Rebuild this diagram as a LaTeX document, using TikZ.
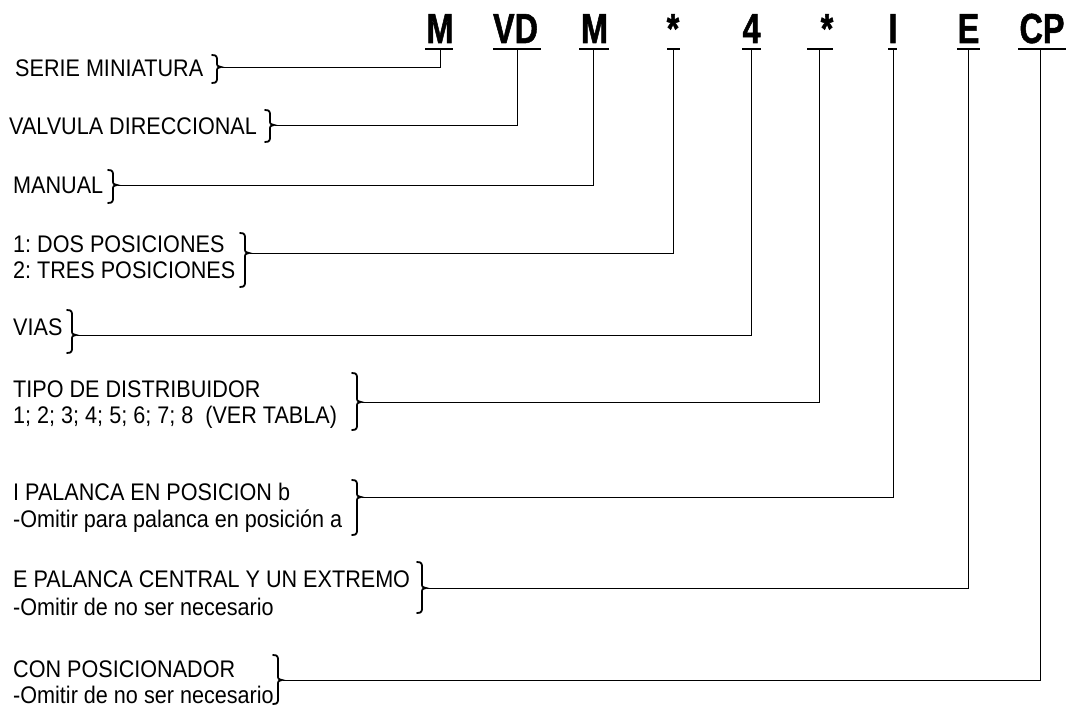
\documentclass[tikz,border=0pt]{standalone}
\usepackage{fontspec}
\setmainfont{Liberation Sans}
\newfontfamily\bodyfont{Liberation Sans}[FakeStretch=0.9]
\newfontfamily\headfont{Liberation Sans Bold}[FakeStretch=0.77,FakeBold=1.2]
\frenchspacing
\newcommand{\mybrace}[5]{% name, x, top, mid, bottom
  \draw[brc] (#2,#3) .. controls (#2+5,#3) and (#2+5,#3+2) .. (#2+5,#3+6)
    -- (#2+5,#4-5) .. controls (#2+5,#4-1) .. (#2+9,#4)
    .. controls (#2+5,#4+1) .. (#2+5,#4+5)
    -- (#2+5,#5-6) .. controls (#2+5,#5-2) and (#2+5,#5) .. (#2,#5);
  \coordinate (#1) at (#2+10,#4);}
\begin{document}
\begin{tikzpicture}[x=1pt,y=-1pt,
  lab/.style={inner sep=0pt,anchor=base west,font=\bodyfont\fontsize{24}{28}\selectfont},
  code/.style={inner sep=0pt,anchor=base,font=\headfont\fontsize{42}{46}\selectfont},
  uline/.style={line width=1.6pt},
  conn/.style={line width=0.8pt},
  brc/.style={line width=1.8pt,line cap=round}]
\useasboundingbox (0,0) rectangle (1067,706);

% header code letters
\node[code] (h1) at (440,43) {M};
\node[code] (h2) at (515.5,43) {VD};
\node[code] (h3) at (594.5,43) {M};
\node[code] (h4) at (673,43) {*};
\node[code] (h5) at (751.5,43) {4};
\node[code] (h6) at (827,43) {*};
\node[code] (h7) at (893,43) {I};
\node[code] (h8) at (968.5,43) {E};
\node[code] (h9) at (1042,43) {CP};

% underlines
\draw[uline] (425,49) -- (453,49);
\draw[uline] (493,49) -- (541,49);
\draw[uline] (579,49) -- (609,49);
\draw[uline] (667,49) -- (680,49);
\draw[uline] (742,49) -- (761,49);
\draw[uline] (807,49) -- (833,49);
\draw[uline] (888,49) -- (897,49);
\draw[uline] (957,49) -- (980,49);
\draw[uline] (1018,49) -- (1066,49);
\coordinate (u1) at (440,49);
\coordinate (u2) at (517,49);
\coordinate (u3) at (593,49);
\coordinate (u4) at (673,49);
\coordinate (u5) at (751,49);
\coordinate (u6) at (819,49);
\coordinate (u7) at (893,49);
\coordinate (u8) at (968,49);
\coordinate (u9) at (1040,49);

% labels
\node[lab] (l1) at (15,77) {SERIE MINIATURA};
\node[lab] (l2) at (9,134) {VALVULA DIRECCIONAL};
\node[lab] (l3) at (13,193) {MANUAL};
\node[lab] (l4a) at (13,252) {1: DOS POSICIONES};
\node[lab] (l4b) at (13,278) {2: TRES POSICIONES};
\node[lab] (l5) at (13,335) {VIAS};
\node[lab] (l6a) at (13,397) {TIPO DE DISTRIBUIDOR};
\node[lab] (l6b) at (13,423) {1; 2; 3; 4; 5; 6; 7; 8\ \ (VER TABLA)};
\node[lab] (l7a) at (13,500) {I PALANCA EN POSICION b};
\node[lab] (l7b) at (13,527) {-Omitir para palanca en posición a};
\node[lab] (l8a) at (13,587) {E PALANCA CENTRAL Y UN EXTREMO};
\node[lab] (l8b) at (13,615) {-Omitir de no ser necesario};
\node[lab] (l9a) at (13,677) {CON POSICIONADOR};
\node[lab] (l9b) at (13,703) {-Omitir de no ser necesario};

% braces
\mybrace{b1}{212}{55}{67}{83}
\mybrace{b2}{265}{110}{125}{142}
\mybrace{b3}{108}{170}{185}{203}
\mybrace{b4}{240}{233}{253}{287}
\mybrace{b5}{67}{310}{335}{353}
\mybrace{b6}{352}{373}{402}{430}
\mybrace{b7}{352}{480}{497}{535}
\mybrace{b8}{417}{562}{588}{613}
\mybrace{b9}{273}{655}{680}{704}

% connectors
\draw[conn] (b1) -| (u1);
\draw[conn] (b2) -| (u2);
\draw[conn] (b3) -| (u3);
\draw[conn] (b4) -| (u4);
\draw[conn] (b5) -| (u5);
\draw[conn] (b6) -| (u6);
\draw[conn] (b7) -| (u7);
\draw[conn] (b8) -| (u8);
\draw[conn] (b9) -| (u9);
\end{tikzpicture}
\end{document}
